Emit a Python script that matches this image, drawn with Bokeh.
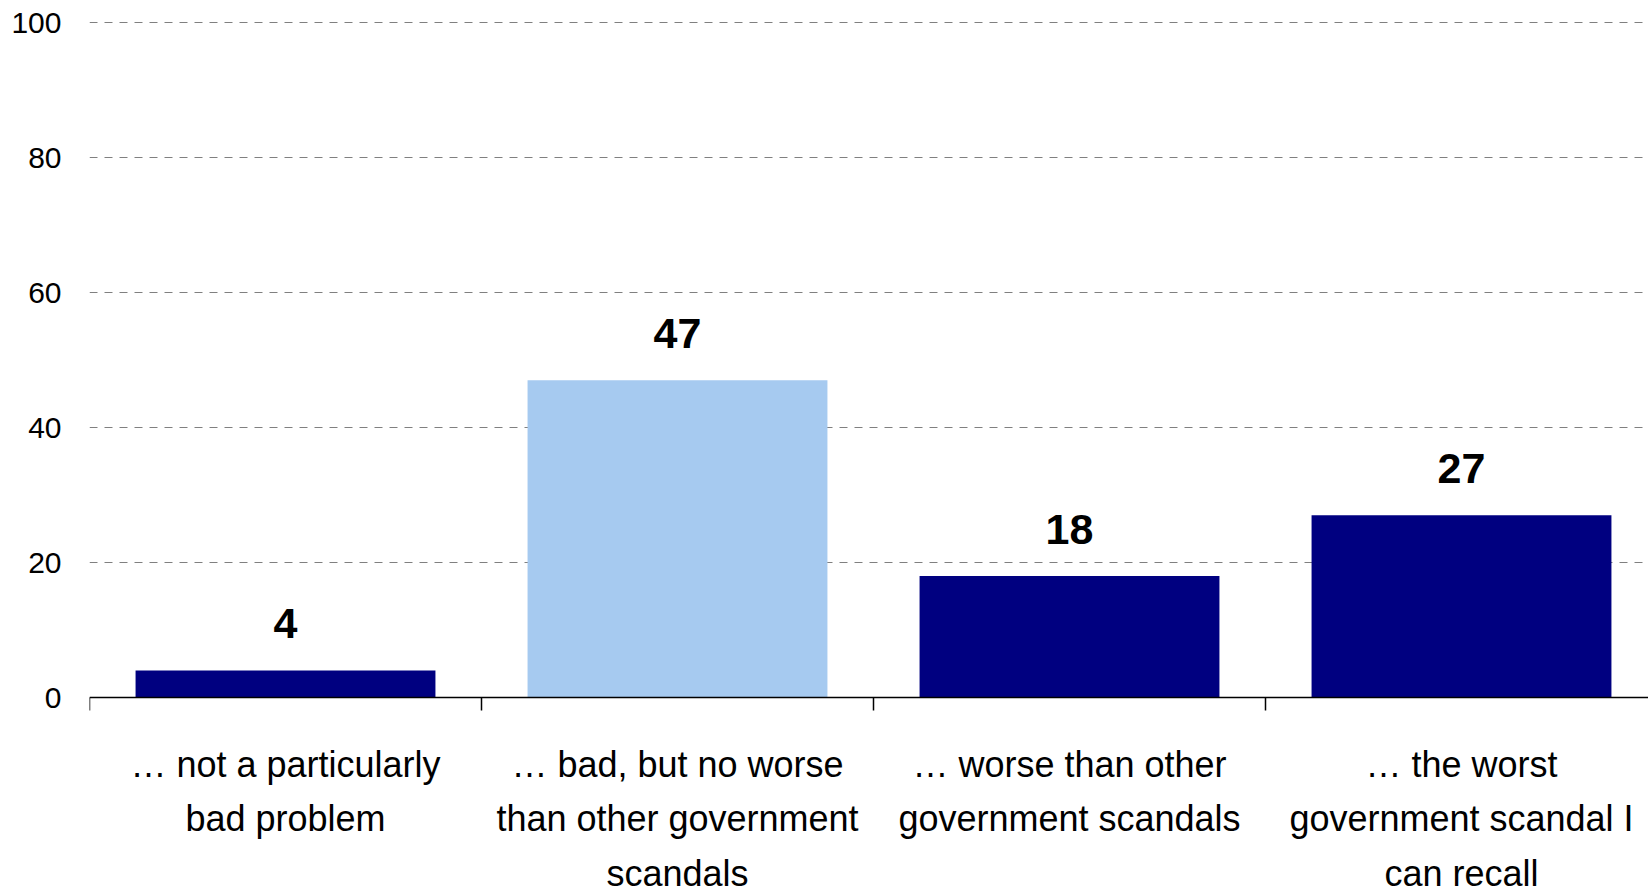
from bokeh.plotting import figure
from bokeh.models import Range1d, FixedTicker, ColumnDataSource
from bokeh.core.properties import value
from bokeh.embed import file_html
from bokeh.resources import INLINE

categories = [
    "\u2026 not a particularly\nbad problem",
    "\u2026 bad, but no worse\nthan other government\nscandals",
    "\u2026 worse than other\ngovernment scandals",
    "\u2026 the worst\ngovernment scandal I\ncan recall",
]
values = [4, 47, 18, 27]
bar_colors = ["#000080", "#A6CAF0", "#000080", "#000080"]
y_ticks = [0, 20, 40, 60, 80, 100]

FONT = "Liberation Sans"

W, H = 1648, 892
LEFT, TOP, ZERO_Y = 89, 22, 697       # frame left, y=100 and y=0 pixel rows
CAT_W = 392.0                          # pixels per category
PX_PER_UNIT = (ZERO_Y - TOP) / 100.0

centers = [i + 0.5 for i in range(len(categories))]
boundaries = list(range(len(categories) + 1))

src = ColumnDataSource(dict(
    x=centers,
    top=values,
    color=bar_colors,
    label=[str(v) for v in values],
))

p = figure(
    width=W, height=H,
    x_range=Range1d(0, (W - LEFT) / CAT_W),
    y_range=Range1d(-(H - ZERO_Y) / PX_PER_UNIT, 100 + TOP / PX_PER_UNIT),
    output_backend="svg", toolbar_location=None,
    min_border_left=LEFT, min_border_right=0,
    min_border_top=0, min_border_bottom=0,
)
p.outline_line_color = None
p.background_fill_color = "white"
p.border_fill_color = "white"

p.vbar(x="x", top="top", width=0.765, bottom=0, color="color", line_color=None, source=src)
p.text(x="x", y="top", text="label", source=src,
       text_font=value(FONT), text_font_style="bold", text_font_size="43px",
       text_align="center", text_baseline="alphabetic", y_offset=-47, text_color="black")

# y axis
p.yaxis.ticker = FixedTicker(ticks=y_ticks)
p.yaxis.axis_line_color = None
p.yaxis.major_tick_line_color = None
p.yaxis.minor_tick_line_color = None
p.yaxis.major_tick_out = 0
p.yaxis.major_tick_in = 0
p.yaxis.major_label_standoff = 28
p.yaxis.major_label_text_font = FONT
p.yaxis.major_label_text_font_size = "30px"
p.yaxis.major_label_text_color = "black"

p.ygrid.ticker = FixedTicker(ticks=y_ticks[1:])
p.ygrid.grid_line_color = "#808080"
p.ygrid.grid_line_dash = "8 7"
p.ygrid.grid_line_width = 1
p.xgrid.grid_line_color = None

# x axis drawn at y = 0, labels at category centres, ticks at boundaries
p.xaxis.fixed_location = 0
p.xaxis.ticker = FixedTicker(ticks=centers, minor_ticks=boundaries)
p.xaxis.major_label_overrides = {c: lab for c, lab in zip(centers, categories)}
p.xaxis.axis_line_color = "black"
p.xaxis.axis_line_width = 1.5
p.xaxis.major_tick_line_color = None
p.xaxis.major_tick_out = 0
p.xaxis.major_tick_in = 0
p.xaxis.minor_tick_line_color = "black"
p.xaxis.minor_tick_line_width = 1.5
p.xaxis.minor_tick_out = 13
p.xaxis.minor_tick_in = 0
p.xaxis.major_label_standoff = 33
p.xaxis.major_label_text_font = FONT
p.xaxis.major_label_text_font_size = "36px"
p.xaxis.major_label_text_color = "black"
p.xaxis.major_label_text_line_height = 1.34

open("out.html", "w").write(file_html(p, INLINE))
